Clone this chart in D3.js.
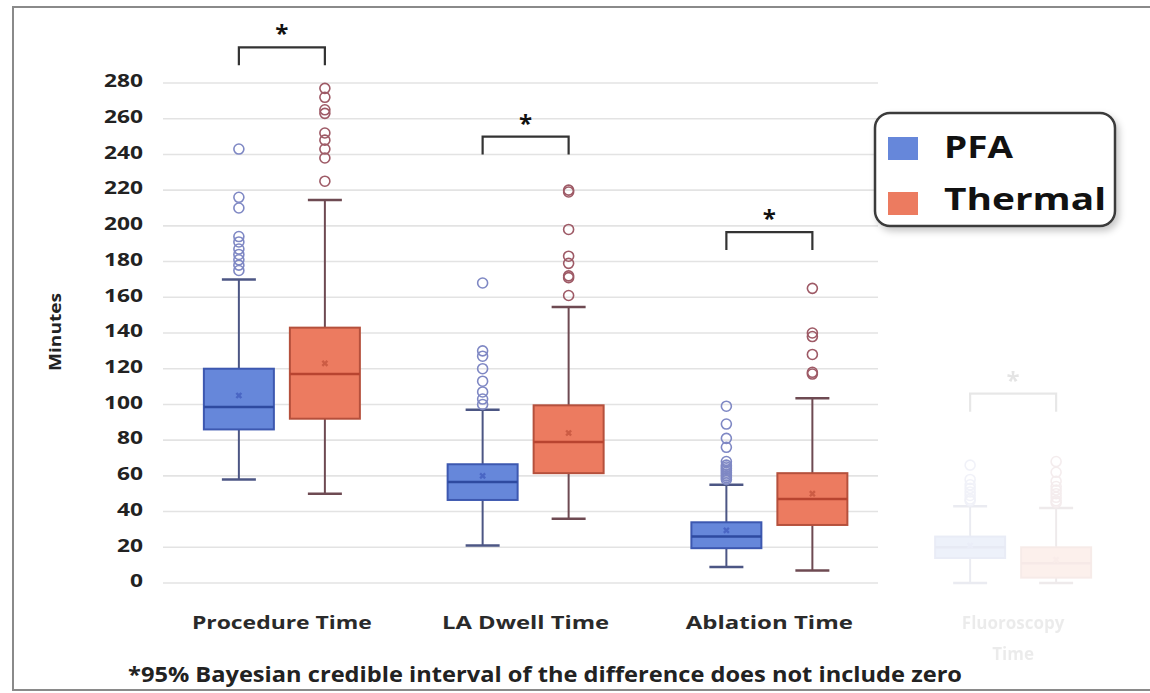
<!DOCTYPE html>
<html>
<head>
<meta charset="utf-8">
<script src="https://cdn.jsdelivr.net/npm/d3@7"></script>
<style>
  html, body { margin: 0; padding: 0; background: #fff; }
  svg { display: block; font-family: "Open Sans", "DejaVu Sans", sans-serif; }
</style>
</head>
<body>
<svg id="chart" width="1150" height="693"></svg>
<script>
// ---- data ----
const categories = ["Procedure Time", "LA Dwell Time", "Ablation Time", "Fluoroscopy Time"];
const seriesNames = ["PFA", "Thermal"];
const yTicks = [0, 20, 40, 60, 80, 100, 120, 140, 160, 180, 200, 220, 240, 260, 280];

// PFA box statistics (minutes) per category
const pfaLow    = [58, 21, 9, 0];
const pfaQ1     = [86, 46.5, 19.5, 14];
const pfaMedian = [98.5, 56.5, 26, 20];
const pfaQ3     = [120, 66.5, 34, 26];
const pfaHigh   = [170, 97, 55, 43];
const pfaMean   = [105, 60, 29.5, 21];
const pfaOutliers = [
  [243, 216, 210, 194, 191, 187, 184, 181, 178, 175],
  [168, 130, 127, 120, 113, 107, 103, 100],
  [99, 89, 81, 76, 68, 66, 65, 64, 63, 62, 61, 60, 59, 58],
  [66, 58, 55, 53, 51, 49, 47, 46]
];

// Thermal box statistics (minutes) per category
const thermalLow    = [50, 36, 7, 0];
const thermalQ1     = [92, 61.5, 32.5, 3];
const thermalMedian = [117, 79, 47, 11];
const thermalQ3     = [143, 99.5, 61.5, 20];
const thermalHigh   = [214.5, 154.5, 103.5, 42];
const thermalMean   = [123, 84, 50, 13];
const thermalOutliers = [
  [277, 272, 265, 263, 252, 248, 243, 238, 225],
  [220, 219, 198, 183, 179, 172, 171, 161],
  [165, 140, 138, 128, 118, 117],
  [68, 62, 57, 54, 52, 50, 48, 46, 45]
];

// Height (minutes) of each significance bracket
const bracketTop = [300, 250, 196.5, 106];
// Categories shown greyed out
const fadedCategories = ["Fluoroscopy Time"];

const footnote = "*95% Bayesian credible interval of the difference does not include zero";

// ---- build ----
const colors = {
  PFA:     { fill: "#6687da", stroke: "#3d58b0", median: "#2e4aa0", whisker: "#4c5684", outlier: "#7f88c4", mean: "#4a66c4" },
  Thermal: { fill: "#ec7b60", stroke: "#b5503c", median: "#b84430", whisker: "#6e4a52", outlier: "#9e5a66", mean: "#cc5c44" }
};

const stats = {
  PFA: categories.map((c, i) => ({ cat: c, low: pfaLow[i], q1: pfaQ1[i], median: pfaMedian[i], q3: pfaQ3[i], high: pfaHigh[i], mean: pfaMean[i], outliers: pfaOutliers[i] })),
  Thermal: categories.map((c, i) => ({ cat: c, low: thermalLow[i], q1: thermalQ1[i], median: thermalMedian[i], q3: thermalQ3[i], high: thermalHigh[i], mean: thermalMean[i], outliers: thermalOutliers[i] }))
};

const svg = d3.select("#chart");

// outer frame (top, left and bottom edges)
svg.append("path")
  .attr("d", "M1150,7H13V690H1150")
  .attr("fill", "none").attr("stroke", "#8a8a8a").attr("stroke-width", 2);

const x = d3.scaleBand().domain(categories).range([160, 1135]).paddingInner(0).paddingOuter(0);
const xs = d3.scaleBand().domain(seriesNames).range([-86, 86]).paddingInner(0).paddingOuter(0);
const y = d3.scaleLinear().domain([0, 280]).range([583, 83]);
const boxW = 70, capW = 34;

const center = c => x(c) + x.bandwidth() / 2;
const sx = (c, s) => center(c) + xs(s) + xs.bandwidth() / 2;

// grid lines
svg.append("g").selectAll("line").data(yTicks).join("line")
  .attr("x1", 163).attr("x2", 878)
  .attr("y1", d => y(d)).attr("y2", d => y(d))
  .attr("stroke", "#e3e3e3").attr("stroke-width", 1.6);

// y axis labels
const yAxis = svg.append("g").attr("transform", "translate(143,0)")
  .call(d3.axisLeft(y).tickValues(yTicks).tickSize(0).tickPadding(0));
yAxis.select(".domain").remove();
yAxis.selectAll("text")
  .attr("dy", "0.32em")
  .attr("y", -2)
  .attr("font-size", 18).attr("font-weight", 700).attr("fill", "#222")
  .attr("font-family", "\"Open Sans\", sans-serif")
  .each(function () { this.setAttribute("textLength", this.textContent.length * 13); })
  .attr("lengthAdjust", "spacingAndGlyphs");

svg.append("text")
  .attr("transform", "translate(61,332) rotate(-90)")
  .attr("text-anchor", "middle")
  .attr("font-size", 16).attr("font-weight", 700).attr("fill", "#222")
  .attr("textLength", 78).attr("lengthAdjust", "spacingAndGlyphs")
  .text("Minutes");

// boxes
categories.forEach((cat, ci) => {
  const faded = fadedCategories.includes(cat);
  const g = svg.append("g").attr("opacity", faded ? 0.11 : 1);

  seriesNames.forEach(s => {
    const d = stats[s][ci];
    const cx = sx(cat, s);
    const col = colors[s];

    // whisker stems and caps
    g.append("line").attr("x1", cx).attr("x2", cx).attr("y1", y(d.q3)).attr("y2", y(d.high))
      .attr("stroke", col.whisker).attr("stroke-width", 2);
    g.append("line").attr("x1", cx).attr("x2", cx).attr("y1", y(d.q1)).attr("y2", y(d.low))
      .attr("stroke", col.whisker).attr("stroke-width", 2);
    [d.high, d.low].forEach(v => {
      g.append("line").attr("x1", cx - capW / 2).attr("x2", cx + capW / 2).attr("y1", y(v)).attr("y2", y(v))
        .attr("stroke", col.whisker).attr("stroke-width", 2.5);
    });

    // outliers
    g.append("g").selectAll("circle").data(d.outliers).join("circle")
      .attr("cx", cx).attr("cy", v => y(v)).attr("r", 5)
      .attr("fill", "none").attr("stroke", col.outlier).attr("stroke-width", 1.6);

    // box
    g.append("rect")
      .attr("x", cx - boxW / 2).attr("width", boxW)
      .attr("y", y(d.q3)).attr("height", y(d.q1) - y(d.q3))
      .attr("fill", col.fill).attr("stroke", col.stroke).attr("stroke-width", 2);
    g.append("line").attr("x1", cx - boxW / 2).attr("x2", cx + boxW / 2)
      .attr("y1", y(d.median)).attr("y2", y(d.median))
      .attr("stroke", col.median).attr("stroke-width", 2.5);

    // mean marker
    g.append("path")
      .attr("d", d3.symbol(d3.symbolCross, 28)())
      .attr("transform", `translate(${cx},${y(d.mean)}) rotate(45)`)
      .attr("fill", col.mean);
  });

  // significance bracket
  const xa = sx(cat, "PFA"), xb = sx(cat, "Thermal");
  const yt = y(bracketTop[ci]);
  g.append("path")
    .attr("d", `M${xa},${yt + 18}V${yt}H${xb}V${yt + 18}`)
    .attr("fill", "none").attr("stroke", "#333").attr("stroke-width", 2.2);
  g.append("text")
    .attr("x", (xa + xb) / 2).attr("y", yt - 5)
    .attr("text-anchor", "middle")
    .attr("font-size", 24).attr("font-weight", 700).attr("fill", "#111")
    .text("*");

  // category label
  const words = faded ? ["Fluoroscopy", "Time"] : [cat];
  words.forEach((w, wi) => {
    const t = g.append("text")
      .attr("x", center(cat)).attr("y", 629 + wi * 31)
      .attr("text-anchor", "middle")
      .attr("font-size", 17).attr("font-weight", 700)
      .attr("fill", faded ? "#555" : "#2a2a2a")
      .text(w);
    if (!faded) t.attr("textLength", 180 * w.length / 14).attr("lengthAdjust", "spacingAndGlyphs");
  });
});

// legend
const defs = svg.append("defs");
const f = defs.append("filter").attr("id", "legshadow").attr("x", "-10%").attr("y", "-10%").attr("width", "130%").attr("height", "140%");
f.append("feDropShadow").attr("dx", 3).attr("dy", 4).attr("stdDeviation", 3.5).attr("flood-color", "#000").attr("flood-opacity", 0.22);

const leg = svg.append("g").attr("transform", "translate(875,113)");
leg.append("rect")
  .attr("width", 240).attr("height", 113).attr("rx", 15)
  .attr("fill", "#fff").attr("stroke", "#3a3a3a").attr("stroke-width", 2.5)
  .attr("filter", "url(#legshadow)");
seriesNames.forEach((s, i) => {
  leg.append("rect").attr("x", 13).attr("y", 24 + i * 55).attr("width", 30).attr("height", 23)
    .attr("fill", colors[s].fill);
  leg.append("text").attr("x", 69).attr("y", 45 + i * 52)
    .attr("font-size", 30).attr("font-weight", 700).attr("fill", "#111")
    .attr("textLength", s === "PFA" ? 69 : 162).attr("lengthAdjust", "spacingAndGlyphs")
    .text(s);
});

// footnote
svg.append("text")
  .attr("x", 128).attr("y", 682)
  .attr("font-size", 21).attr("font-weight", 700).attr("fill", "#222")
  .attr("textLength", 834).attr("lengthAdjust", "spacingAndGlyphs")
  .text(footnote);
</script>
</body>
</html>
